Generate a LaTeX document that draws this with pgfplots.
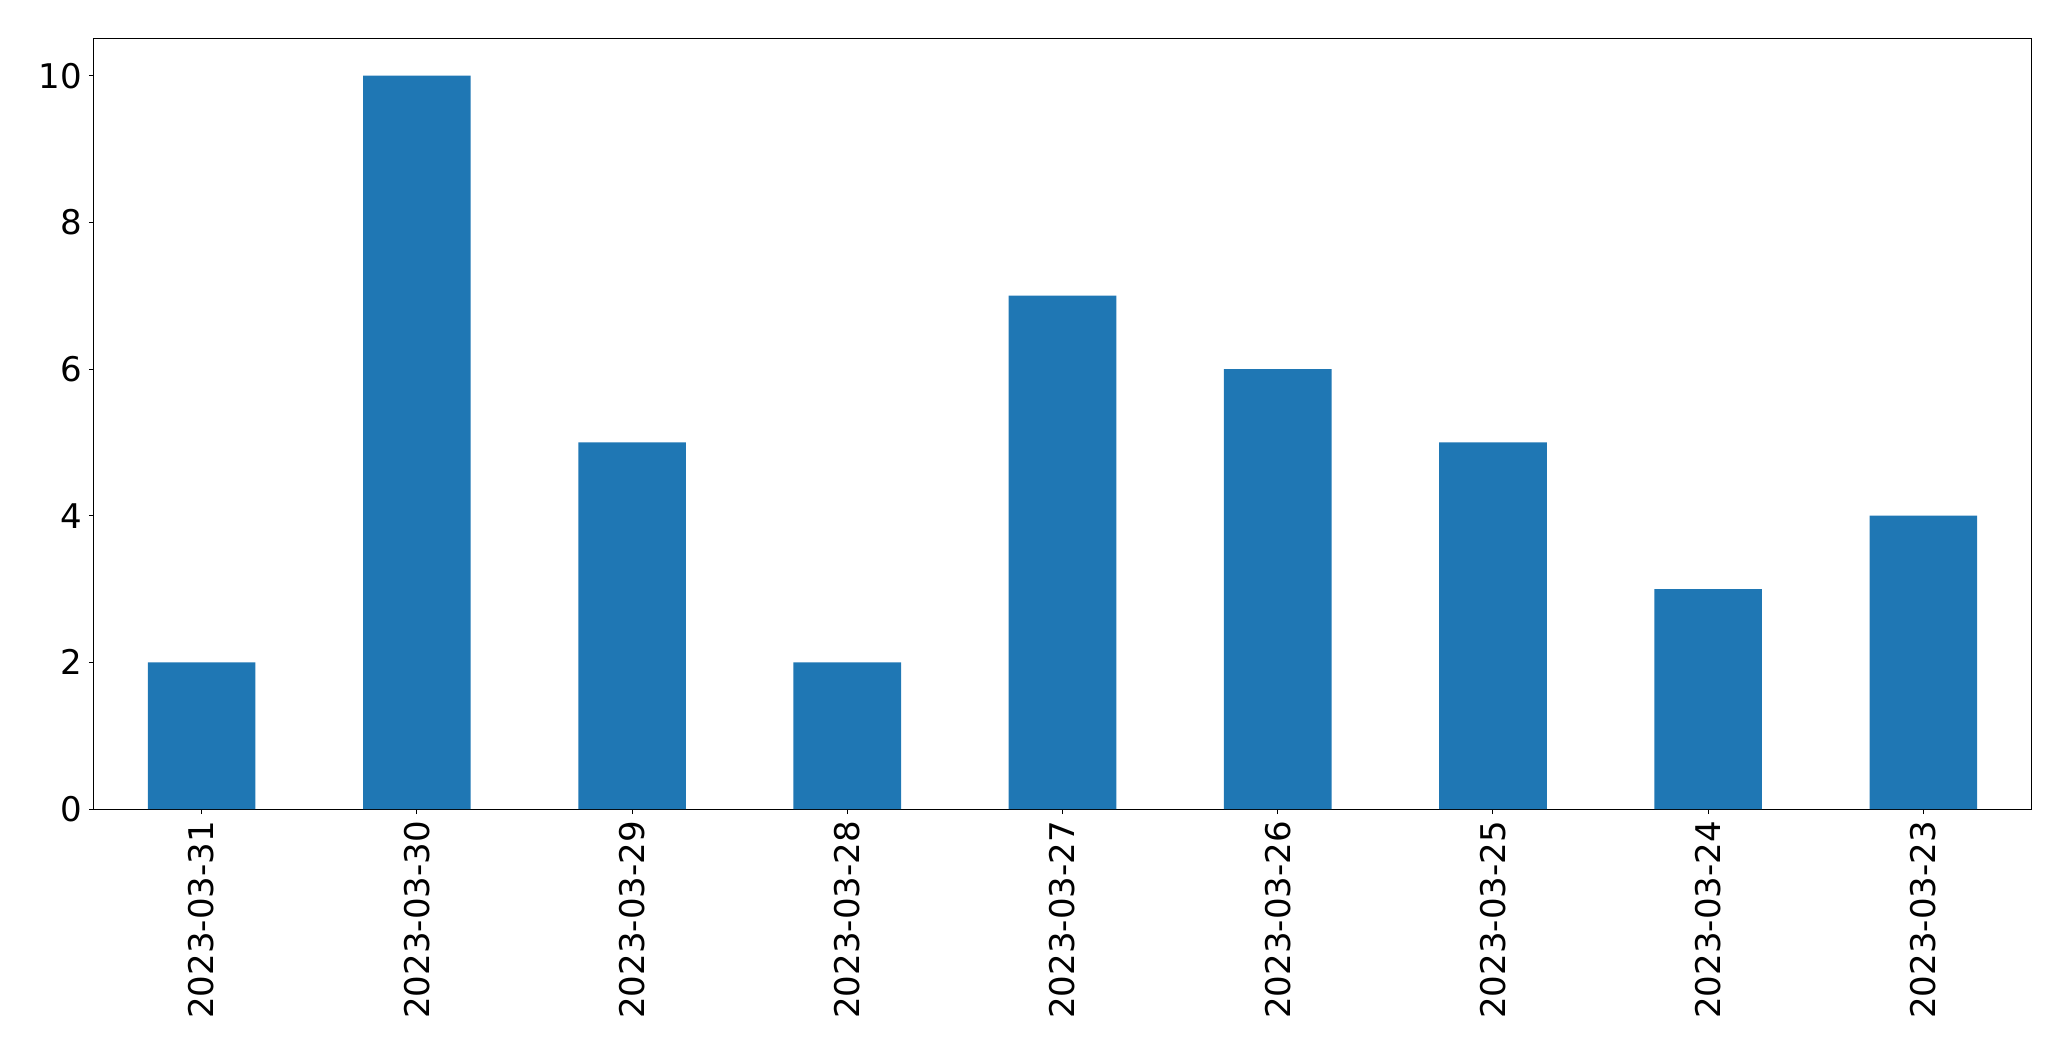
\documentclass[border=0pt]{standalone}
\usepackage{fontspec}
\setmainfont{DejaVu Sans}
\usepackage{pgfplots}
\pgfplotsset{compat=1.18}
\definecolor{mplblue}{HTML}{1F77B4}
\begin{document}
\begin{tikzpicture}
\path (-47pt,-126pt) rectangle (988.5pt,404.5pt);
\begin{axis}[
  at={(0,0)}, anchor=south west,
  scale only axis, width=968.5pt, height=385pt,
  xmin=-0.5, xmax=8.5, ymin=0, ymax=10.5,
  ybar, bar width=0.5, bar shift=0pt,
  xtick=data,
  xticklabels={2023-03-31,2023-03-30,2023-03-29,2023-03-28,2023-03-27,2023-03-26,2023-03-25,2023-03-24,2023-03-23},
  ytick={0,2,4,6,8,10},
  x tick label style={rotate=90, anchor=east},
  tick label style={font=\fontsize{17}{20}\selectfont},
  tick align=outside, major tick length=2.5pt,
  xtick pos=bottom, ytick pos=left,
  axis line style={line width=0.5pt},
  tick style={line width=0.5pt, black},
  /pgf/number format/assume math mode=true,
]
\addplot[fill=mplblue, draw=none] coordinates {
  (0,2) (1,10) (2,5) (3,2) (4,7) (5,6) (6,5) (7,3) (8,4)
};
\end{axis}
\end{tikzpicture}
\end{document}
